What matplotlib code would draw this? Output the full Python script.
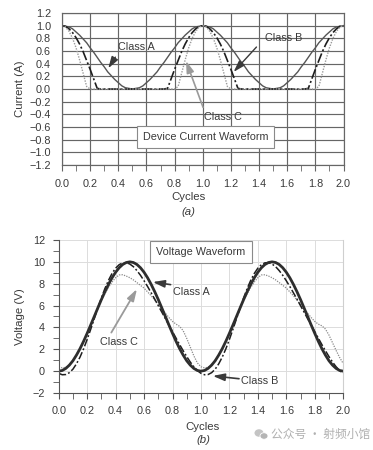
import matplotlib
matplotlib.use("Agg")
import matplotlib.pyplot as plt
from matplotlib.patches import Ellipse

plt.rcParams['font.family'] = ['Liberation Sans', 'DejaVu Sans']

# ---------------- data ----------------
cycles = [i * 0.025 for i in range(81)]

current_a = [1.00, 0.99, 0.98, 0.95, 0.90, 0.85, 0.79, 0.73, 0.65, 0.58,
             0.50, 0.42, 0.35, 0.27, 0.21, 0.15, 0.10, 0.05, 0.02, 0.01,
             0.00, 0.01, 0.02, 0.05, 0.10, 0.15, 0.21, 0.27, 0.35, 0.42,
             0.50, 0.58, 0.65, 0.73, 0.79, 0.85, 0.90, 0.95, 0.98, 0.99,
             1.00, 0.99, 0.98, 0.95, 0.90, 0.85, 0.79, 0.73, 0.65, 0.58,
             0.50, 0.42, 0.35, 0.27, 0.21, 0.15, 0.10, 0.05, 0.02, 0.01,
             0.00, 0.01, 0.02, 0.05, 0.10, 0.15, 0.21, 0.27, 0.35, 0.42,
             0.50, 0.58, 0.65, 0.73, 0.79, 0.85, 0.90, 0.95, 0.98, 0.99,
             1.00]
current_b = [1.00, 0.99, 0.95, 0.89, 0.81, 0.71, 0.59, 0.45, 0.31, 0.16,
             0.01, 0.00, 0.00, 0.00, 0.00, 0.00, 0.00, 0.00, 0.00, 0.00,
             0.00, 0.00, 0.00, 0.00, 0.00, 0.00, 0.00, 0.00, 0.00, 0.00,
             0.01, 0.16, 0.31, 0.45, 0.59, 0.71, 0.81, 0.89, 0.95, 0.99,
             1.00, 0.99, 0.95, 0.89, 0.81, 0.71, 0.59, 0.45, 0.31, 0.16,
             0.01, 0.00, 0.00, 0.00, 0.00, 0.00, 0.00, 0.00, 0.00, 0.00,
             0.00, 0.00, 0.00, 0.00, 0.00, 0.00, 0.00, 0.00, 0.00, 0.00,
             0.01, 0.16, 0.31, 0.45, 0.59, 0.71, 0.81, 0.89, 0.95, 0.99,
             1.00]
current_c = [1.00, 0.98, 0.91, 0.80, 0.65, 0.46, 0.25, 0.04, 0.00, 0.00,
             0.00, 0.00, 0.00, 0.00, 0.00, 0.00, 0.00, 0.00, 0.00, 0.00,
             0.00, 0.00, 0.00, 0.00, 0.00, 0.00, 0.00, 0.00, 0.00, 0.00,
             0.00, 0.00, 0.00, 0.04, 0.25, 0.46, 0.65, 0.80, 0.91, 0.98,
             1.00, 0.98, 0.91, 0.80, 0.65, 0.46, 0.25, 0.04, 0.00, 0.00,
             0.00, 0.00, 0.00, 0.00, 0.00, 0.00, 0.00, 0.00, 0.00, 0.00,
             0.00, 0.00, 0.00, 0.00, 0.00, 0.00, 0.00, 0.00, 0.00, 0.00,
             0.00, 0.00, 0.00, 0.04, 0.25, 0.46, 0.65, 0.80, 0.91, 0.98,
             1.00]

voltage_a = [0.00, 0.06, 0.25, 0.55, 0.95, 1.47, 2.06, 2.73, 3.46, 4.22,
             5.00, 5.78, 6.55, 7.27, 7.94, 8.54, 9.05, 9.46, 9.76, 9.94,
             10.00, 9.94, 9.76, 9.46, 9.05, 8.54, 7.94, 7.27, 6.55, 5.78,
             5.00, 4.22, 3.46, 2.73, 2.06, 1.47, 0.95, 0.55, 0.25, 0.06,
             0.00, 0.06, 0.25, 0.55, 0.95, 1.47, 2.06, 2.73, 3.46, 4.22,
             5.00, 5.78, 6.55, 7.27, 7.94, 8.54, 9.05, 9.46, 9.76, 9.94,
             10.00, 9.94, 9.76, 9.46, 9.05, 8.54, 7.94, 7.27, 6.55, 5.78,
             5.00, 4.22, 3.46, 2.73, 2.06, 1.47, 0.95, 0.55, 0.25, 0.06,
             0.00]
voltage_b = [-0.20, -0.33, -0.31, -0.14, 0.18, 0.67, 1.29, 2.04, 2.90, 3.83,
             4.80, 5.77, 6.70, 7.56, 8.31, 8.94, 9.42, 9.74, 9.91, 9.93,
             9.80, 9.56, 9.20, 8.77, 8.27, 7.74, 7.17, 6.59, 5.99, 5.40,
             4.80, 4.21, 3.61, 3.02, 2.43, 1.87, 1.33, 0.83, 0.40, 0.05,
             -0.20, -0.33, -0.31, -0.14, 0.18, 0.67, 1.29, 2.04, 2.90, 3.83,
             4.80, 5.77, 6.70, 7.56, 8.31, 8.94, 9.42, 9.74, 9.91, 9.93,
             9.80, 9.56, 9.20, 8.77, 8.27, 7.74, 7.17, 6.59, 5.99, 5.40,
             4.80, 4.21, 3.61, 3.02, 2.43, 1.87, 1.33, 0.83, 0.40, 0.05,
             -0.20]
voltage_c = [0.40, 0.30, 0.35, 0.60, 1.00, 1.50, 2.10, 2.75, 3.45, 4.20,
             5.00, 5.75, 6.45, 7.10, 7.65, 8.15, 8.55, 8.80, 8.82, 8.70,
             8.55, 8.35, 8.10, 7.85, 7.60, 7.25, 6.90, 6.50, 6.10, 5.70,
             5.30, 4.90, 4.55, 4.30, 4.10, 3.70, 3.00, 2.20, 1.40, 0.75,
             0.40, 0.30, 0.35, 0.60, 1.00, 1.50, 2.10, 2.75, 3.45, 4.20,
             5.00, 5.75, 6.45, 7.10, 7.65, 8.15, 8.55, 8.80, 8.82, 8.70,
             8.55, 8.35, 8.10, 7.85, 7.60, 7.25, 6.90, 6.50, 6.10, 5.70,
             5.30, 4.90, 4.55, 4.30, 4.15, 3.85, 3.30, 2.60, 1.90, 1.25,
             0.70]

x_ticks = [0.0, 0.2, 0.4, 0.6, 0.8, 1.0, 1.2, 1.4, 1.6, 1.8, 2.0]
x_ticklabels = ["0.0", "0.2", "0.4", "0.6", "0.8", "1.0", "1.2", "1.4", "1.6", "1.8", "2.0"]
x_minor = [0.1, 0.3, 0.5, 0.7, 0.9, 1.1, 1.3, 1.5, 1.7, 1.9]
i_ticks = [1.2, 1.0, 0.8, 0.6, 0.4, 0.2, 0.0, -0.2, -0.4, -0.6, -0.8, -1.0, -1.2]
i_ticklabels = ["1.2", "1.0", "0.8", "0.6", "0.4", "0.2", "0.0", "\u22120.2", "\u22120.4",
                "\u22120.6", "\u22120.8", "\u22121.0", "\u22121.2"]
v_ticks = [12, 10, 8, 6, 4, 2, 0, -2]
v_ticklabels = ["12", "10", "8", "6", "4", "2", "0", "\u22122"]
v_minor = [11, 9, 7, 5, 3, 1, -1]

# ---------------- figure ----------------
W, H = 373, 450
fig = plt.figure(figsize=(W / 100, H / 100), dpi=100)
fig.patch.set_facecolor("white")

tick_color = "#3a3a3a"
fs = 7.8

# ---- (a) current ----
ax1 = fig.add_axes([62 / W, 1 - 165 / H, 281.5 / W, 152 / H])
ax1.plot(cycles, current_a, color="#555555", lw=1.0, solid_joinstyle="round")
ax1.plot(cycles, current_b, color="#1e1e1e", lw=1.2, dashes=(6, 1.5, 1.2, 1.5))
ax1.plot(cycles, current_c, color="#9a9a9a", lw=1.0, linestyle=(0, (1, 1)))
ax1.set_xlim(0, 2.0)
ax1.set_ylim(-1.2, 1.2)
ax1.set_xticks(x_ticks)
ax1.set_xticklabels(x_ticklabels)
ax1.set_xticks(x_minor, minor=True)
ax1.set_yticks(i_ticks)
ax1.set_yticklabels(i_ticklabels)
ax1.grid(True, which="major", color="#666666", lw=0.85)
ax1.set_axisbelow(True)
for s in ax1.spines.values():
    s.set_color("#666666")
    s.set_linewidth(0.85)
ax1.tick_params(axis="both", which="both", colors="#666666", labelcolor=tick_color,
                labelsize=fs, direction="out")
ax1.tick_params(axis="x", which="major", length=4, pad=6)
ax1.tick_params(axis="x", which="minor", length=4)
ax1.tick_params(axis="y", length=0, pad=8)
ax1.set_ylabel("Current (A)", fontsize=fs + 0.4, color=tick_color, labelpad=3)

ax1.annotate("", xy=(0.318, 0.29), xytext=(0.39, 0.54),
             arrowprops=dict(arrowstyle="-|>,head_length=0.7,head_width=0.22",
                             color="#3a3a3a", lw=1.0))
ax1.text(0.53, 0.668, "Class A", fontsize=fs, color=tick_color, ha="center", va="center")
ax1.annotate("", xy=(1.206, 0.237), xytext=(1.395, 0.695),
             arrowprops=dict(arrowstyle="-|>,head_length=0.7,head_width=0.22",
                             color="#3a3a3a", lw=1.0))
ax1.text(1.572, 0.80, "Class B", fontsize=fs, color=tick_color, ha="center", va="center")
ax1.annotate("", xy=(0.874, 0.485), xytext=(1.009, -0.33),
             arrowprops=dict(arrowstyle="-|>,head_length=0.7,head_width=0.22",
                             color="#9a9a9a", lw=1.2))
ax1.text(1.142, -0.437, "Class C", fontsize=fs, color=tick_color, ha="center", va="center")
ax1.text(1.018, -0.761, "Device Current Waveform", fontsize=fs, color=tick_color,
         ha="center", va="center",
         bbox=dict(boxstyle="square,pad=0.55", fc="white", ec="#8a8a8a", lw=0.8))

fig.text(188 / W, 1 - 197 / H, "Cycles", fontsize=fs + 0.4, color=tick_color, ha="center", va="center")
fig.text(188 / W, 1 - 212 / H, "(a)", fontsize=fs + 0.4, color=tick_color, ha="center", va="center",
         style="italic")

# ---- (b) voltage ----
ax2 = fig.add_axes([58.7 / W, 1 - 393 / H, 284.5 / W, 153 / H])
ax2.plot(cycles, voltage_c, color="#8a8a8a", lw=0.9, linestyle=(0, (1, 1)))
ax2.plot(cycles, voltage_b, color="#1e1e1e", lw=1.1, dashes=(5, 1.5, 1.2, 1.5))
ax2.plot(cycles, voltage_a, color="#2e2e2e", lw=2.0)
ax2.set_xlim(0, 2.0)
ax2.set_ylim(-2, 12)
ax2.set_xticks(x_ticks)
ax2.set_xticklabels(x_ticklabels)
ax2.set_xticks(x_minor, minor=True)
ax2.set_yticks(v_ticks)
ax2.set_yticklabels(v_ticklabels)
ax2.set_yticks(v_minor, minor=True)
ax2.grid(True, which="major", color="#dcdcdc", lw=0.7)
ax2.set_axisbelow(True)
ax2.spines["top"].set_visible(False)
ax2.spines["right"].set_color("#cfcfcf")
ax2.spines["left"].set_color("#555555")
ax2.spines["bottom"].set_color("#555555")
for s in ax2.spines.values():
    s.set_linewidth(0.8)
ax2.tick_params(axis="both", which="both", colors="#555555", labelcolor=tick_color,
                labelsize=fs, direction="out", length=4)
ax2.tick_params(axis="x", which="major", pad=5)
ax2.tick_params(axis="y", which="major", pad=6)
ax2.set_ylabel("Voltage (V)", fontsize=fs + 0.4, color=tick_color, labelpad=5)

ax2.text(1.0, 10.93, "Voltage Waveform", fontsize=fs, color=tick_color,
         ha="center", va="center",
         bbox=dict(boxstyle="square,pad=0.55", fc="white", ec="#8a8a8a", lw=0.8))
ax2.annotate("", xy=(0.642, 8.19), xytext=(0.806, 7.88),
             arrowprops=dict(arrowstyle="-|>,head_length=0.7,head_width=0.22",
                             color="#3a3a3a", lw=1.2))
ax2.text(0.936, 7.27, "Class A", fontsize=fs, color=tick_color, ha="center", va="center")
ax2.annotate("", xy=(0.56, 7.73), xytext=(0.36, 3.31),
             arrowprops=dict(arrowstyle="-|>,head_length=0.7,head_width=0.22",
                             color="#9a9a9a", lw=1.3))
ax2.text(0.42, 2.64, "Class C", fontsize=fs, color=tick_color, ha="center", va="center")
ax2.annotate("", xy=(1.064, -0.41), xytext=(1.287, -0.72),
             arrowprops=dict(arrowstyle="-|>,head_length=0.7,head_width=0.22",
                             color="#3a3a3a", lw=1.2))
ax2.text(1.416, -0.87, "Class B", fontsize=fs, color=tick_color, ha="center", va="center")

fig.text(203 / W, 1 - 427 / H, "Cycles", fontsize=fs + 0.4, color=tick_color, ha="center", va="center")
fig.text(203 / W, 1 - 440 / H, "(b)", fontsize=fs + 0.4, color=tick_color, ha="center", va="center",
         style="italic")

# watermark
fig.patches.append(Ellipse((259 / W, 1 - 433 / H), 9 / W, 7.5 / H, transform=fig.transFigure,
                           fc="#c4c4c4", ec="none"))
fig.patches.append(Ellipse((264 / W, 1 - 436 / H), 8 / W, 6.5 / H, transform=fig.transFigure,
                           fc="#b4b4b4", ec="white", lw=0.6))
fig.text(271 / W, 1 - 434 / H, "公众号 · 射频小馆", fontsize=8.5, color="#b0b0b0",
         ha="left", va="center", family=["Noto Sans CJK SC", "DejaVu Sans"])

fig.savefig("out.png", dpi=100, facecolor="white")
